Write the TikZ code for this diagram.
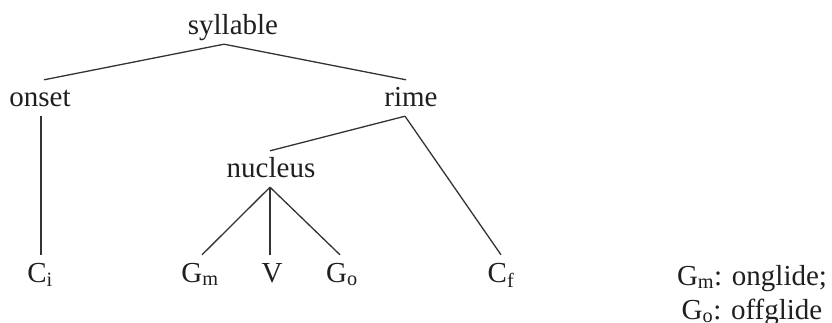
\documentclass[tikz,border=0pt]{standalone}
\usepackage{fontspec}
\setmainfont{Liberation Serif}
\begin{document}
\begin{tikzpicture}[x=1pt,y=-1pt,
  lab/.style={anchor=base, inner sep=0pt, text height=27pt, text depth=9pt,
              font=\fontsize{29}{34}\selectfont, text=black!88},
  conn/.style={draw=black!80, line width=1.3pt}]
\useasboundingbox (0,0) rectangle (832,323);
\node[lab] (syl) at (233,35) {syllable};
\node[lab] (onset) at (40,107) {onset};
\node[lab] (rime) at (411,107) {rime};
\node[lab] (nuc) at (271,178) {nucleus};
\node[lab] (ci) at (40,282) {C\textsubscript{i}};
\node[lab] (gm) at (200,282) {G\textsubscript{m}};
\node[lab] (v) at (272,282) {V};
\node[lab] (go) at (342,282) {G\textsubscript{o}};
\node[lab] (cf) at (501,282) {C\textsubscript{f}};
\node[lab] (leg1) at (752,285) {G\textsubscript{m}: onglide;};
\node[lab] (leg2) at (752,319) {G\textsubscript{o}: offglide};
\draw[conn] ([xshift=-9pt]syl.south) -- ([xshift=4pt]onset.north);
\draw[conn] ([xshift=-9pt]syl.south) -- ([xshift=-5pt]rime.north);
\draw[conn] ([xshift=1pt]onset.south) -- ([xshift=1pt]ci.north);
\draw[conn] ([xshift=-6pt]rime.south) -- ([xshift=-1pt]nuc.north);
\draw[conn] ([xshift=-6pt]rime.south) -- (cf.north);
\draw[conn] ([xshift=-1pt]nuc.south) -- ([xshift=2pt]gm.north);
\draw[conn] ([xshift=-1pt]nuc.south) -- ([xshift=-2pt]v.north);
\draw[conn] ([xshift=-1pt]nuc.south) -- ([xshift=-2pt]go.north);
\end{tikzpicture}
\end{document}
